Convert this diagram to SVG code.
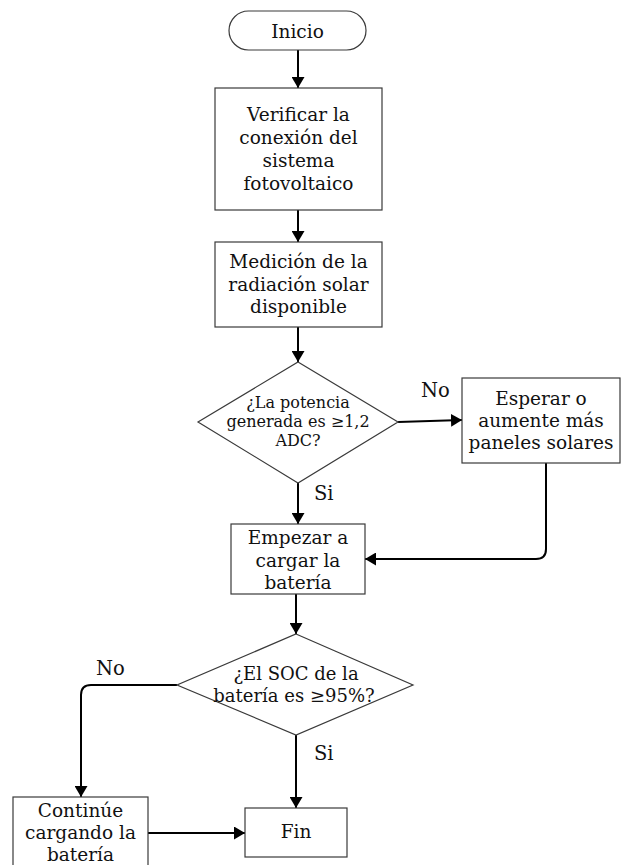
<svg xmlns="http://www.w3.org/2000/svg" width="621" height="865" viewBox="0 0 621 865">
<style>
.box{fill:#fff;stroke:#3a3a3a;stroke-width:1.2}
.t{font-family:"DejaVu Serif","Liberation Serif",serif;font-size:18.5px;fill:#111;text-anchor:middle}
.s{font-size:16px}
.m{font-size:18px}
.lbl{font-family:"DejaVu Serif","Liberation Serif",serif;font-size:19.5px;fill:#111}
.c{fill:none;stroke:#000;stroke-width:2;marker-end:url(#ah)}
</style>
<defs>
<marker id="ah" markerUnits="userSpaceOnUse" markerWidth="12" markerHeight="13" refX="11" refY="6.5" orient="auto">
<path d="M0,0 L11,6.5 L0,13 z" fill="#000"/>
</marker>
</defs>
<rect width="621" height="865" fill="#fff"/>
<g id="connectors">
<path class="c" d="M298,50 V88"/>
<path class="c" d="M298,210 V242"/>
<path class="c" d="M298,327 V362"/>
<path class="c" d="M398,422 L462,420"/>
<path class="c" d="M298,483 V524"/>
<path class="c" d="M546,463 V549 Q546,559 536,559 H365"/>
<path class="c" d="M296,594 V634"/>
<path class="c" d="M177,685 H91 Q81,685 81,695 V797"/>
<path class="c" d="M296,735 V808"/>
<path class="c" d="M148,833 H245"/>
<text class="lbl" x="421" y="397">No</text>
<text class="lbl" x="314" y="500">Si</text>
<text class="lbl" x="96" y="675">No</text>
<text class="lbl" x="314" y="760">Si</text>
</g>
<g id="inicio">
<rect class="box" x="229" y="11" width="137" height="39" rx="19.5"/>
<text class="t" x="297.5" y="38">Inicio</text>
</g>
<g id="verificar">
<rect class="box" x="215" y="88" width="167" height="122"/>
<text class="t" x="298.5" y="121">Verificar la</text>
<text class="t" x="298.5" y="144">conexión del</text>
<text class="t" x="298.5" y="167">sistema</text>
<text class="t" x="298.5" y="190">fotovoltaico</text>
</g>
<g id="medicion">
<rect class="box" x="215" y="242" width="167" height="85"/>
<text class="t" x="298.5" y="268">Medición de la</text>
<text class="t" x="298.5" y="291">radiación solar</text>
<text class="t" x="298.5" y="313">disponible</text>
</g>
<g id="decision1">
<polygon class="box" points="298,362 398,422 298,483 198,422"/>
<text class="t s" x="298" y="408">¿La potencia</text>
<text class="t s" x="298" y="427">generada es ≥1,2</text>
<text class="t s" x="298" y="446">ADC?</text>
</g>
<g id="esperar">
<rect class="box" x="462" y="378" width="158" height="85"/>
<text class="t" x="541" y="405">Esperar o</text>
<text class="t" x="541" y="427">aumente más</text>
<text class="t" x="541" y="449">paneles solares</text>
</g>
<g id="empezar">
<rect class="box" x="231" y="524" width="134" height="70"/>
<text class="t" x="298" y="544">Empezar a</text>
<text class="t" x="298" y="567">cargar la</text>
<text class="t" x="298" y="589">batería</text>
</g>
<g id="decision2">
<polygon class="box" points="296,634 413,685 296,735 177,685"/>
<text class="t m" x="296" y="680">¿El SOC de la</text>
<text class="t m" x="294" y="702">batería es ≥95%?</text>
</g>
<g id="continue">
<rect class="box" x="13" y="797" width="135" height="71"/>
<text class="t" x="80.5" y="817">Continúe</text>
<text class="t" x="80.5" y="839">cargando la</text>
<text class="t" x="80.5" y="861">batería</text>
</g>
<g id="fin">
<rect class="box" x="245" y="808" width="102" height="49"/>
<text class="t" x="296" y="838">Fin</text>
</g>
</svg>
